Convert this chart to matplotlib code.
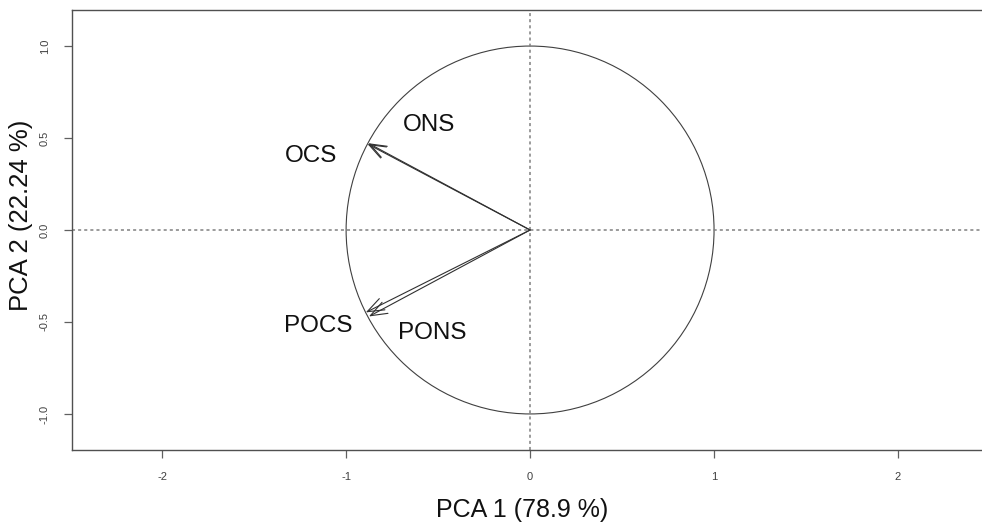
import matplotlib
matplotlib.use("Agg")
import matplotlib.pyplot as plt
from matplotlib.patches import Circle

# variable loadings on the first two components
variables = ["ONS", "OCS", "POCS", "PONS"]
pc1 = [-0.880, -0.884, -0.893, -0.876]
pc2 = [0.472, 0.468, -0.448, -0.470]
label_x = [-0.55, -1.19, -1.15, -0.53]
label_y = [0.57, 0.40, -0.52, -0.56]

xticks = [-2, -1, 0, 1, 2]
yticks = [-1.0, -0.5, 0.0, 0.5, 1.0]
xlab = "PCA 1 (78.9 %)"
ylab = "PCA 2 (22.24 %)"

plt.rcParams['font.family'] = ['Liberation Sans', 'DejaVu Sans']

fig = plt.figure(figsize=(9.82, 5.24), dpi=100)
# 184 px per unit on both axes so the circle stays round
ax = fig.add_axes([72 / 982, 74 / 524, 918 / 982, 440 / 524])
ax.set_xlim(-2.49, 2.5)
ax.set_ylim(-1.196, 1.196)

ax.axhline(0, color="#808080", ls=(0, (2, 2)), lw=1.1)
ax.axvline(0, color="#808080", ls=(0, (2, 2)), lw=1.1)
ax.add_patch(Circle((0, 0), 1, fill=False, ec="#404040", lw=0.8))

for x, y in zip(pc1, pc2):
    ax.annotate("", xy=(x, y), xytext=(0, 0),
                arrowprops=dict(arrowstyle="->,head_length=0.8,head_width=0.3",
                                mutation_scale=15, color="#303030", lw=0.8,
                                shrinkA=0, shrinkB=0))

for name, x, y in zip(variables, label_x, label_y):
    ax.text(x, y, name, fontsize=17.5, ha="center", va="center", color="#111111")

ax.set_xticks(xticks)
ax.set_xticklabels([str(t) for t in xticks])
ax.set_yticks(yticks)
ax.set_yticklabels(["%.1f" % t for t in yticks], rotation=90, va="center")
ax.tick_params(axis="both", length=6, width=0.9, color="#606060",
               labelsize=8, labelcolor="#404040", pad=10)

for s in ax.spines.values():
    s.set_color("#505050")
    s.set_linewidth(1.0)

ax.set_xlabel(xlab, fontsize=18, color="#111111")
ax.set_ylabel(ylab, fontsize=18.5, color="#111111")
ax.xaxis.set_label_coords(0.49, -0.109)
ax.yaxis.set_label_coords(-0.042, 0.534)

fig.savefig("out.png", dpi=100)
